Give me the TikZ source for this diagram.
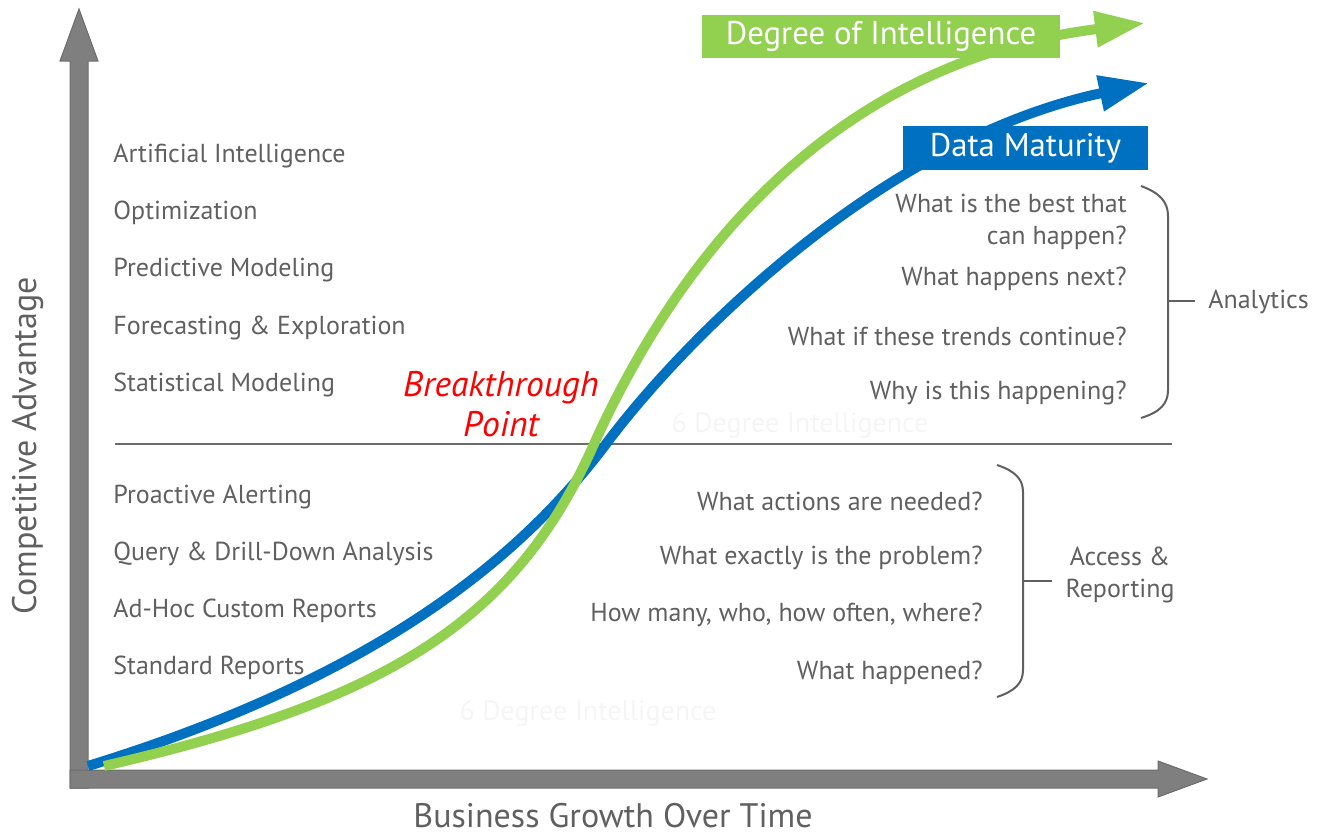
\documentclass[tikz,border=0pt]{standalone}
\usepackage{fontspec}
\setmainfont{PT Sans}
\usepackage{tikz}
\usetikzlibrary{positioning, calc, arrows.meta}
\definecolor{axisgray}{RGB}{127,127,127}
\definecolor{axisedge}{RGB}{108,108,108}
\definecolor{textgray}{RGB}{96,96,96}
\definecolor{dataBlue}{RGB}{0,112,192}
\definecolor{degreeGreen}{RGB}{146,208,80}
\definecolor{textred}{RGB}{255,0,0}
\definecolor{markgray}{RGB}{245,245,245}
\tikzset{
    leftlabel/.style={
        anchor=west, text=textgray, inner sep=0pt,
        font=\fontsize{13}{16}\selectfont
    },
    qlabel/.style={
        anchor=east, text=textgray, inner sep=0pt, align=right,
        font=\fontsize{13}{16}\selectfont
    },
    bracketline/.style={
        draw=textgray, line width=1pt
    }
}

\begin{document}
\begin{tikzpicture}[
        x=0.5pt, y=-0.5pt,
        % --- STYLE ---
        curvearrow/.style={
            line width=5pt, -{Triangle[length=25pt, width=17pt]}
        },
        tagbox/.style={
            text=white, inner sep=0pt, font=\fontsize{16.4}{18}\selectfont
        },
        axislabel/.style={
            text=textgray, inner sep=0pt, font=\fontsize{17}{19}\selectfont
        },
        watermark/.style={
            text=markgray, inner sep=0pt, font=\fontsize{14}{16}\selectfont
        }
    ]
        \useasboundingbox (0,0) rectangle (1322,835);

        % --- 1. AXES ---
        \filldraw[fill=axisgray, draw=axisedge, line width=0.5pt]
            (70,788) -- (70,61) -- (60,61) -- (79,9) -- (98,61) -- (88,61) -- (88,788) -- cycle;
        \filldraw[fill=axisgray, draw=axisedge, line width=0.5pt]
            (70,770) -- (1158,770) -- (1158,761) -- (1207,779) -- (1158,797) -- (1158,788) -- (70,788) -- cycle;

        \node[axislabel, rotate=90] (lblyaxis) at (28,446) {Competitive Advantage};
        \node[axislabel] (lblxaxis) at (613,816) {Business Growth Over Time};

        % --- 2. DIVIDER ---
        \draw[axisedge, line width=1pt] (115,444) -- (1172,444);

        % --- 3. WATERMARKS ---
        \node[watermark] (mark1) at (800,425) {6 Degree Intelligence};
        \node[watermark] (mark2) at (588,713) {6 Degree Intelligence};

        % --- 4. CURVES ---
        \coordinate (origin) at (88,766);
        \draw[curvearrow, dataBlue] (origin)
            .. controls (380,676) and (522,556) .. (606,444)
            .. controls (682,342) and (880,140) .. (1149,83);
        \draw[curvearrow, degreeGreen] (104,766)
            .. controls (390,700) and (516,620) .. (594,444)
            .. controls (690,232) and (850,60) .. (1145,23);

        \node[tagbox, fill=degreeGreen, minimum width=179pt, minimum height=21.5pt] (degree) at (881,36.5) {Degree of Intelligence};
        \node[tagbox, fill=dataBlue, minimum width=122.5pt, minimum height=22pt] (maturity) at (1025.5,148) {Data Maturity};

        % --- 5. LEFT LABELS ---
        \node[leftlabel] (ai) at (113,156) {Artificial Intelligence};
        \node[leftlabel] (opt) at (113,213) {Optimization};
        \node[leftlabel] (pred) at (113,270) {Predictive Modeling};
        \node[leftlabel] (fore) at (113,328) {Forecasting \& Exploration};
        \node[leftlabel] (stat) at (113,385) {Statistical Modeling};
        \node[leftlabel] (alert) at (113,497) {Proactive Alerting};
        \node[leftlabel] (query) at (113,554) {Query \& Drill-Down Analysis};
        \node[leftlabel] (adhoc) at (113,611) {Ad-Hoc Custom Reports};
        \node[leftlabel] (std) at (113,668) {Standard Reports};

        \node[text=textred, align=center, inner sep=0pt, font=\fontsize{17.8}{20}\selectfont\itshape] (breakpt) at (501,404) {Breakthrough\\Point};

        % --- 6. QUESTIONS ---
        \node[qlabel] (qbest) at (1127,222) {What is the best that\\can happen?};
        \node[qlabel] (qnext) at (1127,279) {What happens next?};
        \node[qlabel] (qtrend) at (1127,336) {What if these trends continue?};
        \node[qlabel] (qwhy) at (1127,393) {Why is this happening?};

        \node[qlabel] (qaction) at (983,501) {What actions are needed?};
        \node[qlabel] (qproblem) at (983,558) {What exactly is the problem?};
        \node[qlabel] (qmany) at (983,615) {How many, who, how often, where?};
        \node[qlabel] (qhappened) at (983,673) {What happened?};

        % --- 7. BRACKETS ---
        \node[leftlabel] (analytics) at (1208,302) {Analytics};
        \draw[bracketline] (1141,186) .. controls (1160,193) and (1168,202) .. (1168,216)
            -- (1168,390) .. controls (1168,404) and (1160,412) .. (1141,418);
        \coordinate (tipA) at (1168,301);
        \draw[bracketline] (tipA) -- ($(analytics.west)+(-13,-1)$);

        \node[text=textgray, align=center, inner sep=0pt, font=\fontsize{13}{16}\selectfont] (access) at (1120,575) {Access \&\\Reporting};
        \draw[bracketline] (997,465) .. controls (1015,471) and (1023,479) .. (1023,492)
            -- (1023,670) .. controls (1023,683) and (1015,691) .. (997,697);
        \coordinate (tipB) at (1023,581);
        \draw[bracketline] (tipB) -- (1052,581);

    \end{tikzpicture}
\end{document}
